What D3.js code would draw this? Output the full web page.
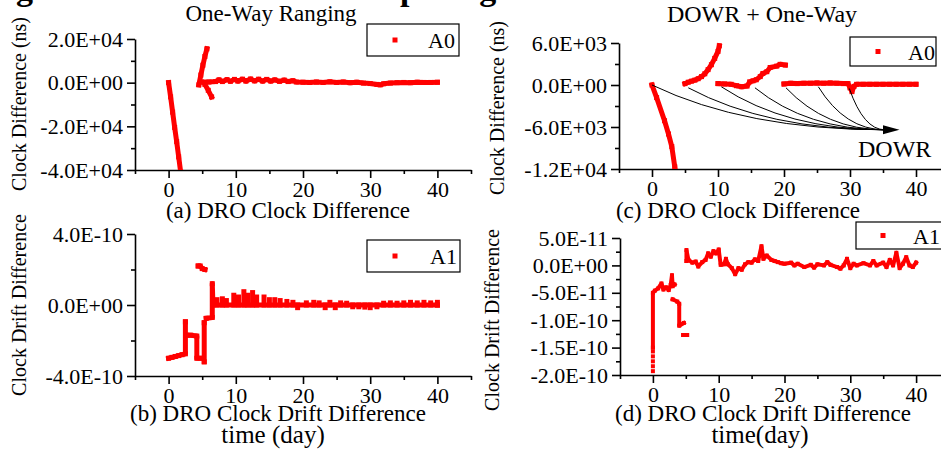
<!DOCTYPE html>
<html><head><meta charset="utf-8">
<script src="https://cdn.jsdelivr.net/npm/d3@7"></script>
<style>body{margin:0;background:#fff} text{font-family:"Liberation Serif","Times New Roman",serif;fill:#000}</style>
</head><body><svg id="c" width="941" height="456"></svg>
<script>
// ---------------- DATA ----------------
const xTicks = [0, 10, 20, 30, 40];
const xMinorTicks = [-5, 5, 15, 25, 35, 45];
const xTickLabels = ["0", "10", "20", "30", "40"];

// (a) One-Way Ranging, A0 clock difference (ns)
const aTicks = [20000, 0, -20000, -40000];
const aTickLabels = ["2.0E+04", "0.0E+00", "-2.0E+04", "-4.0E+04"];
const aMinor = [10000, -10000, -30000];
const aFall = [[0,0],[0.3,-6500],[0.6,-13500],[0.9,-20500],[1.2,-27000],[1.5,-34000],[1.8,-41000]];
const aJump = [[4.5,-1000],[4.8,3500],[5.1,8000],[5.4,12000],[5.7,15500]];
const aTail = [[5.4,-800],[5.9,-3500],[6.4,-6500]];
const aFlat = [[4.9,300],[6,300],[7,500],[7.5,1300],[8,500],[8.7,1400],[9.2,600],[9.8,1500],[10.3,700],[11,1600],[11.5,700],[12.2,1700],[12.8,800],[13.4,1600],[14,700],[14.6,1500],[15.2,700],[15.8,1300],[16.5,600],[17.2,1200],[17.8,500],[18.5,900],[19,300],[20,200],[21,100],[22,300],[23,100],[24,400],[25,100],[26,300],[27,0],[28,200],[29,-200],[30,-400],[31,-800],[31.5,-1000],[32,-500],[33,-200],[34,0],[35,100],[36,0],[37,200],[38,100],[39,100],[40,200]];

// (b) One-Way Ranging, A1 clock drift difference
const bTicks = [4e-10, 0, -4e-10];
const bTickLabels = ["4.0E-10", "0.0E+00", "-4.0E-10"];
const bMinor = [2e-10, -2e-10];
const bStart = [[0,-3.0e-10],[0.5,-2.95e-10],[1,-2.9e-10],[1.5,-2.85e-10],[2,-2.8e-10],[2.5,-2.75e-10],[2.5,-0.95e-10]];
const bStep = [[2.7,-1.7e-10],[3.3,-1.7e-10],[4.2,-1.75e-10],[4.2,-3.0e-10],[4.8,-3.0e-10]];
const bHigh = [[4.4,2.2e-10],[4.7,2.2e-10],[5.0,2.05e-10],[5.4,2.0e-10]];
const bDrop = [[5.3,-1.0e-10],[5.3,-3.2e-10]];
const bRise = [[5.6,-0.75e-10],[6.5,-0.7e-10],[6.5,1.2e-10],[6.6,0],[40,0]];
const bSpikes = [[7.2,0.3e-10],[8.0,0.35e-10],[8.6,0.25e-10],[9.7,0.55e-10],[10.4,0.45e-10],[11.2,0.75e-10],[11.8,0.55e-10],[12.5,0.7e-10],[13.1,0.45e-10],[14.2,0.45e-10],[15.0,0.3e-10],[15.8,0.3e-10],[16.6,0.25e-10],[17.6,0.2e-10],[18.5,0.15e-10],[19.2,-0.15e-10],[20.5,0.12e-10],[21.6,0.15e-10],[22.4,0.12e-10],[23.3,-0.15e-10],[24.0,0.15e-10],[24.8,-0.15e-10],[25.6,0.12e-10],[26.5,0.1e-10],[27.4,-0.1e-10],[28.3,-0.1e-10],[29.2,-0.12e-10],[30.0,-0.15e-10],[31.0,-0.1e-10],[32.0,0.1e-10],[33.0,0.12e-10],[34.0,0.1e-10],[35.0,0.12e-10],[36.0,0.15e-10],[37.0,0.12e-10],[38.0,0.15e-10],[39.0,0.12e-10],[40.0,0.15e-10]];

// (c) DOWR + One-Way, A0 clock difference (ns)
const cTicks = [6000, 0, -6000, -12000];
const cTickLabels = ["6.0E+03", "0.0E+00", "-6.0E+03", "-1.2E+04"];
const cMinor = [3000, -3000, -9000];
const cFall = [[0,0],[0.7,-1800],[1.9,-5100],[2.5,-7000],[3.0,-8800],[3.45,-11700],[3.6,-12800]];
const cArc1 = [[5.0,200],[5.5,400],[6,550],[6.5,700],[7,900],[7.5,1200],[8,1600],[8.5,2200],[9,2900],[9.5,3800],[10,4800],[10.2,5600]];
const cArc2 = [[10,200],[11,150],[12,100],[12.8,-100],[13.6,-250],[14.4,-150],[14.8,450],[15.3,600],[15.8,750],[16.4,1200],[16.8,1650],[17.4,1900],[17.9,2500],[18.9,2700],[19.4,2950],[20.2,2850]];
const cFlat = [[20,150],[21,250],[22,200],[23,250],[24,250],[25,300],[26,250],[27,300],[28,250],[29,200],[29.7,200],[30.0,-400],[30.3,-950],[30.6,-200],[31,100],[32,100],[33,100],[34,100],[35,100],[36,100],[37,100],[38,100],[39,100],[40,100]];
const dowrStarts = [[0,0],[5.5,-400],[10.5,-250],[15.6,-400],[20.3,-400],[25.2,-250],[29.9,-500]];
const dowrEnd = [35.3,-6400];
const dowrTip = [37.5,-6400];

// (d) DOWR + One-Way, A1 clock drift difference
const dTicks = [5e-11, 0, -5e-11, -1e-10, -1.5e-10, -2e-10];
const dTickLabels = ["5.0E-11", "0.0E+00", "-5.0E-11", "-1.0E-10", "-1.5E-10", "-2.0E-10"];
const dMinor = [2.5e-11, -2.5e-11, -7.5e-11, -1.25e-10, -1.75e-10];
const dStartDots = [[0,-19.3e-11],[0,-18.4e-11],[0,-17.5e-11],[0,-16.6e-11],[0,-15.7e-11]];
const dStart = [[0,-15e-11],[0,-5e-11],[0.3,-4.6e-11],[0.8,-4.2e-11],[1.3,-3.3e-11],[1.6,-4.4e-11],[2.0,-4.0e-11],[2.4,-4.5e-11],[2.7,-3.6e-11],[2.9,-1.8e-11],[3.0,-3.8e-11],[3.3,-3.5e-11]];
const dMid = [[3.0,-6.2e-11],[3.7,-6.6e-11],[4.0,-7.0e-11],[4.0,-11.0e-11],[4.7,-10.5e-11]];
const dLow = [[4.6,-12.7e-11],[5.2,-12.7e-11]];
const dRest = [[5.1,0.8e-11],[5.1,2.8e-11],[5.4,1.0e-11],[6.0,0.5e-11],[6.5,0.7e-11],[6.9,-0.2e-11],[7.5,0.6e-11],[8.0,1.0e-11],[8.4,2.2e-11],[8.8,1.6e-11],[9.2,2.6e-11],[9.6,2.2e-11],[10.0,2.9e-11],[10.3,0.1e-11],[10.8,0.2e-11],[11.1,1.2e-11],[11.4,0.2e-11],[12,-0.5e-11],[12.5,-1.6e-11],[13,-0.5e-11],[13.5,-0.8e-11],[14,0.2e-11],[14.5,0.6e-11],[15,0.5e-11],[15.5,1.1e-11],[16,0.8e-11],[16.5,3.5e-11],[16.8,1.2e-11],[17.3,1.8e-11],[18,1.0e-11],[18.5,0.8e-11],[19,0.6e-11],[19.5,0.4e-11],[20,0.3e-11],[21,0.5e-11],[21.5,0.0],[22,0.3e-11],[23,-0.3e-11],[24,0.1e-11],[24.5,-0.4e-11],[25,0.2e-11],[26,0.0],[26.5,0.6e-11],[27,0.1e-11],[28,-0.3e-11],[28.5,-0.6e-11],[29,0.0],[29.5,1.2e-11],[30,-0.5e-11],[30.5,0.3e-11],[31,0.0],[32,0.4e-11],[33,0.0],[33.5,0.8e-11],[34,0.0],[35,0.5e-11],[35.5,-0.3e-11],[36,1.0e-11],[36.5,0.0],[37,2.3e-11],[37.5,-0.5e-11],[38,0.3e-11],[38.5,1.5e-11],[39,0.0],[39.5,-0.3e-11],[40,0.5e-11]];

// ---------------- DRAWING ----------------
const svg = d3.select("#c");
const RED = "#ff0000";
const FONT = "'Liberation Serif','Times New Roman',serif";

function panel(cfg) {
  const x = d3.scaleLinear().domain([-5, 45]).range([cfg.x0, cfg.x1]);
  const y = d3.scaleLinear().domain(cfg.yDomain).range([cfg.yB, cfg.yT]);
  const id = "clip" + cfg.name;
  svg.append("clipPath").attr("id", id).append("rect")
    .attr("x", cfg.x0).attr("y", cfg.yT - 6).attr("width", cfg.x1 - cfg.x0).attr("height", cfg.yB - cfg.yT + 6);

  // axes
  const gy = svg.append("g").attr("transform", `translate(${cfg.x0},0)`)
    .call(d3.axisLeft(y).tickValues(cfg.ticks).tickFormat((d, i) => cfg.labels[i]).tickSize(8).tickPadding(4).tickSizeOuter(0));
  svg.append("g").attr("transform", `translate(${cfg.x0},0)`)
    .call(d3.axisLeft(y).tickValues(cfg.minor).tickFormat("").tickSize(4).tickSizeOuter(0))
    .select(".domain").remove();
  const gx = svg.append("g").attr("transform", `translate(0,${cfg.yB})`)
    .call(d3.axisBottom(x).tickValues(xTicks).tickFormat((d, i) => xTickLabels[i]).tickSize(8).tickPadding(3).tickSizeOuter(0));
  svg.append("g").attr("transform", `translate(0,${cfg.yB})`)
    .call(d3.axisBottom(x).tickValues(xMinorTicks).tickFormat("").tickSize(4).tickSizeOuter(0))
    .select(".domain").remove();
  svg.selectAll(".tick line, .domain").attr("stroke", "#000").attr("stroke-width", 1.6);
  [gy, gx].forEach(g => g.selectAll("text").attr("font-size", 22).attr("font-family", FONT).attr("fill", "#000"));

  const g = svg.append("g").attr("clip-path", `url(#${id})`);
  const line = d3.line().x(d => x(d[0])).y(d => y(d[1]));
  cfg.segments.forEach(seg => {
    g.append("path").attr("d", line(seg)).attr("fill", "none").attr("stroke", RED)
      .attr("stroke-width", cfg.w).attr("stroke-linejoin", "round").attr("stroke-linecap", "square");
    g.selectAll(null).data(seg).enter().append("rect")
      .attr("x", d => x(d[0]) - cfg.w / 2).attr("y", d => y(d[1]) - cfg.w / 2)
      .attr("width", cfg.w).attr("height", cfg.w).attr("fill", RED);
  });
  if (cfg.spikes) {
    g.selectAll(null).data(cfg.spikes).enter().append("line")
      .attr("x1", d => x(d[0])).attr("x2", d => x(d[0]))
      .attr("y1", y(0)).attr("y2", d => y(d[1]))
      .attr("stroke", RED).attr("stroke-width", cfg.w).attr("stroke-linecap", "square");
  }
  if (cfg.dots) {
    g.selectAll(null).data(cfg.dots).enter().append("rect")
      .attr("x", d => x(d[0]) - 2).attr("y", d => y(d[1]) - 2)
      .attr("width", 4).attr("height", 4).attr("fill", RED);
  }
  return {x, y};
}

function yTitle(txt, bx, cy) {
  svg.append("text").attr("transform", `translate(${bx},${cy}) rotate(-90)`)
    .attr("text-anchor", "middle").attr("font-size", 20).text(txt);
}
function text(txt, x, y, size, anchor, weight) {
  svg.append("text").attr("x", x).attr("y", y).attr("font-size", size)
    .attr("text-anchor", anchor || "middle").attr("font-weight", weight || "normal").text(txt);
}
function legend(bx, by, bw, bh, label, mx, tx) {
  svg.append("rect").attr("x", bx).attr("y", by).attr("width", bw).attr("height", bh)
    .attr("fill", "#fff").attr("stroke", "#000").attr("stroke-width", 1.2);
  svg.append("rect").attr("x", mx - 2.5).attr("y", by + bh / 2 - 2.5).attr("width", 5).attr("height", 5).attr("fill", RED);
  text(label, tx, by + bh / 2 + 8, 22, "start");
}

// cut-off heading at the very top
text("Ranging", 33, 0, 34, "end", "bold");
text("Comparing", 330, 0, 34, "start", "bold");

// (a)
panel({name: "a", x0: 135, x1: 471, yT: 39, yB: 170, yDomain: [-40000, 20000],
  ticks: aTicks, labels: aTickLabels, minor: aMinor, w: 5,
  segments: [aFall, aJump, aTail, aFlat]});
text("One-Way Ranging", 271, 21, 23);
yTitle("Clock Difference (ns)", 26, 104);
text("(a) DRO Clock Difference", 288, 218, 23);
legend(367, 24, 92, 32, "A0", 395, 428);

// (b)
panel({name: "b", x0: 135, x1: 471, yT: 234, yB: 376, yDomain: [-4e-10, 4e-10],
  ticks: bTicks, labels: bTickLabels, minor: bMinor, w: 5,
  segments: [bStart, bStep, bHigh, bDrop, bRise], spikes: bSpikes});
yTitle("Clock Drift Difference", 26, 305);
text("(b) DRO Clock Drift Difference", 278, 421, 23);
text("time (day)", 273, 443, 25);
legend(367, 240, 93, 32, "A1", 395, 430);

// (c)
const pc = panel({name: "c", x0: 619, x1: 949, yT: 43, yB: 169, yDomain: [-12000, 6000],
  ticks: cTicks, labels: cTickLabels, minor: cMinor, w: 5,
  segments: [cFall, cArc1, cArc2, cFlat]});
const ex = pc.x(dowrEnd[0]), ey = pc.y(dowrEnd[1]);
svg.append("g").selectAll("path").data(dowrStarts).enter().append("path")
  .attr("d", d => {
    const sx = pc.x(d[0]), sy = pc.y(d[1]);
    const cx = sx + 0.4 * (ex - sx);
    return `M${sx},${sy} Q${cx},${ey} ${ex},${ey}`;
  })
  .attr("fill", "none").attr("stroke", "#000").attr("stroke-width", 1);
svg.append("path").attr("d", `M${ex - 2},${ey - 4.5} L${pc.x(dowrTip[0])},${ey} L${ex - 2},${ey + 4.5} Z`).attr("fill", "#000");
text("DOWR", 858, 157, 24, "start");
text("DOWR + One-Way", 762, 22, 24);
yTitle("Clock Difference (ns)", 504, 108);
text("(c) DRO Clock Difference", 738, 218, 23);
legend(850, 37, 86, 29, "A0", 878, 908);

// (d)
panel({name: "d", x0: 620, x1: 949, yT: 238, yB: 375, yDomain: [-2e-10, 5e-11],
  ticks: dTicks, labels: dTickLabels, minor: dMinor, w: 4,
  segments: [dStart, dMid, dLow, dRest], dots: dStartDots});
yTitle("Clock Drift Difference", 499, 320);
text("(d) DRO Clock Drift Difference", 763, 421, 23);
text("time(day)", 760, 443, 25);
legend(856, 222, 92, 27, "A1", 883, 913);
</script></body></html>
